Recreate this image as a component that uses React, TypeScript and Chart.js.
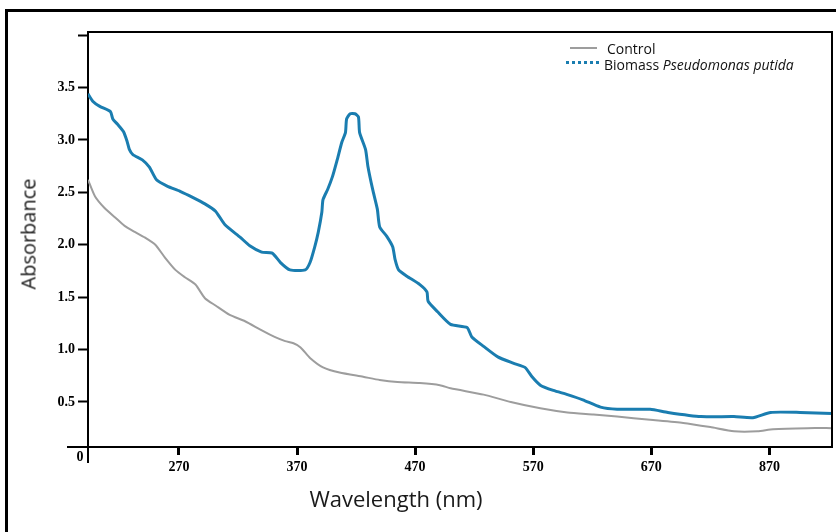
import React, { useEffect, useRef } from "react";
import { Chart, registerables } from "chart.js";

Chart.register(...registerables);

// ---- data ----
const controlWavelength = [193, 199, 207, 216, 224, 233, 241, 250, 258, 267, 275, 284, 292, 301, 313, 326, 339, 351, 360, 367, 373, 381, 392, 406, 426, 440, 455, 474, 491, 500, 528, 551, 576, 599, 621, 641, 669, 697, 720, 740, 760, 773, 802, 823];
const controlAbsorbance = [2.62, 2.46, 2.35, 2.26, 2.18, 2.12, 2.07, 2.0, 1.88, 1.76, 1.69, 1.62, 1.49, 1.42, 1.33, 1.27, 1.19, 1.12, 1.08, 1.06, 1.02, 0.92, 0.83, 0.78, 0.74, 0.71, 0.69, 0.68, 0.66, 0.63, 0.57, 0.5, 0.44, 0.4, 0.38, 0.36, 0.33, 0.3, 0.26, 0.22, 0.22, 0.24, 0.25, 0.25];

const biomassWavelength = [193, 197, 203, 212, 214, 218, 223, 226, 228, 231, 239, 245, 251, 260, 271, 282, 292, 301, 309, 322, 330, 340, 349, 356, 364, 377, 381, 385, 388, 391, 392, 396, 400, 404, 408, 411, 412, 415, 419, 422, 423, 428, 430, 434, 438, 440, 446, 451, 453, 456, 463, 474, 480, 481, 489, 500, 514, 518, 528, 540, 553, 563, 569, 576, 587, 599, 612, 627, 641, 669, 684, 712, 740, 756, 771, 796, 823];
const biomassAbsorbance = [3.44, 3.37, 3.32, 3.27, 3.2, 3.15, 3.08, 2.99, 2.91, 2.86, 2.81, 2.74, 2.62, 2.56, 2.51, 2.45, 2.39, 2.32, 2.19, 2.07, 1.99, 1.93, 1.92, 1.83, 1.76, 1.76, 1.83, 1.98, 2.12, 2.31, 2.43, 2.53, 2.65, 2.81, 2.98, 3.07, 3.2, 3.25, 3.25, 3.22, 3.07, 2.91, 2.75, 2.53, 2.34, 2.17, 2.08, 1.98, 1.86, 1.76, 1.7, 1.62, 1.55, 1.46, 1.36, 1.24, 1.21, 1.12, 1.03, 0.93, 0.87, 0.83, 0.74, 0.66, 0.61, 0.57, 0.52, 0.45, 0.43, 0.43, 0.4, 0.36, 0.36, 0.35, 0.4, 0.4, 0.39];

const seriesLabels = ["Control", "Biomass", "Pseudomonas putida"];
const xTickValues = [270, 370, 470, 570, 670, 770];
const xTickLabels = ["270", "370", "470", "570", "670", "870"];
const yTickValues = [0.5, 1.0, 1.5, 2.0, 2.5, 3.0, 3.5, 4.0];
const yTickLabels = ["0.5", "1.0", "1.5", "2.0", "2.5", "3.0", "3.5", ""];
const originLabel = "0";
const xTitle = "Wavelength (nm)";
const yTitle = "Absorbance";

const CONTROL_COLOR = "#9d9d9d";
const BIOMASS_COLOR = "#1a7db0";
const TICK_FONT = { family: '"Liberation Serif"', size: 14, weight: "bold" as const };

const framePlugin = {
  id: "frameExtras",
  afterDraw(chart: any) {
    const { ctx, chartArea: a } = chart;
    ctx.save();
    ctx.strokeStyle = "#000";
    ctx.lineWidth = 2;
    ctx.beginPath();
    ctx.moveTo(a.left, a.top);
    ctx.lineTo(a.right, a.top);
    ctx.lineTo(a.right, a.bottom);
    ctx.stroke();
    ctx.beginPath();
    ctx.moveTo(a.left - 21, a.bottom);
    ctx.lineTo(a.left, a.bottom);
    ctx.moveTo(a.left, a.bottom);
    ctx.lineTo(a.left, a.bottom + 16);
    ctx.stroke();
    ctx.fillStyle = "#000";
    ctx.font = 'bold 14px "Liberation Serif"';
    ctx.textAlign = "center";
    ctx.textBaseline = "middle";
    ctx.fillText(originLabel, a.left - 8, a.bottom + 10);
    ctx.restore();
  },
};

export default function App() {
  const ref = useRef<HTMLCanvasElement | null>(null);

  useEffect(() => {
    if (!ref.current) return;
    const chart = new Chart(ref.current, {
      type: "line",
      data: {
        datasets: [
          {
            label: seriesLabels[0],
            data: controlWavelength.map((x, i) => ({ x, y: controlAbsorbance[i] })),
            borderColor: CONTROL_COLOR,
            borderWidth: 2,
            pointRadius: 0,
            tension: 0.2,
            fill: false,
          },
          {
            label: seriesLabels[1] + " " + seriesLabels[2],
            data: biomassWavelength.map((x, i) => ({ x, y: biomassAbsorbance[i] })),
            borderColor: BIOMASS_COLOR,
            borderWidth: 3,
            pointRadius: 0,
            tension: 0.2,
            fill: false,
          },
        ],
      },
      options: {
        animation: false,
        responsive: false,
        maintainAspectRatio: false,
        layout: { padding: { left: 0, top: 32, right: 4, bottom: 0 } },
        plugins: { legend: { display: false }, tooltip: { enabled: false } },
        scales: {
          x: {
            type: "linear",
            min: 193,
            max: 823,
            afterBuildTicks: (s: any) => {
              s.ticks = xTickValues.map((v) => ({ value: v }));
            },
            afterFit: (s: any) => {
              s.height = 85;
            },
            ticks: {
              autoSkip: false,
              maxRotation: 0,
              padding: 4,
              color: "#000",
              font: TICK_FONT,
              callback: (v: any) => {
                const i = xTickValues.indexOf(Number(v));
                return i >= 0 ? xTickLabels[i] : "";
              },
            },
            grid: {
              drawOnChartArea: false,
              drawTicks: true,
              tickLength: 8,
              tickWidth: 3,
              tickColor: "#000",
            },
            border: { display: true, color: "#000", width: 2 },
          },
          y: {
            type: "linear",
            min: 0.07,
            max: 4.03,
            afterBuildTicks: (s: any) => {
              s.ticks = yTickValues.map((v) => ({ value: v }));
            },
            afterFit: (s: any) => {
              s.width = 88;
            },
            ticks: {
              autoSkip: false,
              padding: 3,
              color: "#000",
              font: TICK_FONT,
              callback: (v: any) => {
                const i = yTickValues.findIndex((t) => Math.abs(t - Number(v)) < 1e-6);
                return i >= 0 ? yTickLabels[i] : "";
              },
            },
            grid: {
              drawOnChartArea: false,
              drawTicks: true,
              tickLength: 10,
              tickWidth: 2,
              tickColor: "#000",
            },
            border: { display: true, color: "#000", width: 2 },
          },
        },
      },
      plugins: [framePlugin],
    });
    return () => chart.destroy();
  }, []);

  const sans = '"Open Sans", "Noto Sans", sans-serif';

  return (
    <div style={{ position: "fixed", left: 0, top: 0, width: 836, height: 532, background: "#fff", overflow: "hidden" }}>
      <div
        style={{
          position: "absolute",
          left: 5,
          top: 9,
          width: 900,
          height: 600,
          borderLeft: "3px solid #000",
          borderTop: "3px solid #000",
          boxSizing: "border-box",
        }}
      />
      <canvas ref={ref} width={836} height={532} style={{ position: "absolute", left: 0, top: 0, width: 836, height: 532 }} />
      {/* axis titles */}
      <div
        style={{
          position: "absolute",
          left: 28,
          top: 234,
          transform: "translate(-50%, -50%) rotate(-90deg)",
          fontFamily: sans,
          fontSize: 20,
          color: "#1a1a1a",
          whiteSpace: "nowrap",
        }}
      >
        {yTitle}
      </div>
      <div
        style={{
          position: "absolute",
          left: 396,
          top: 498,
          transform: "translate(-50%, -50%)",
          fontFamily: sans,
          fontSize: 22,
          color: "#1a1a1a",
          whiteSpace: "nowrap",
        }}
      >
        {xTitle}
      </div>
      {/* legend */}
      <div style={{ position: "absolute", left: 570, top: 47, width: 27, height: 2, background: CONTROL_COLOR }} />
      <div
        style={{
          position: "absolute",
          left: 607,
          top: 48,
          transform: "translateY(-50%)",
          fontFamily: sans,
          fontSize: 14,
          color: "#111",
          whiteSpace: "nowrap",
        }}
      >
        {seriesLabels[0]}
      </div>
      <div style={{ position: "absolute", left: 566, top: 61, width: 33, height: 0, borderTop: "3px dotted " + BIOMASS_COLOR }} />
      <div
        style={{
          position: "absolute",
          left: 604,
          top: 64,
          transform: "translateY(-50%)",
          fontFamily: sans,
          fontSize: 14,
          color: "#111",
          whiteSpace: "nowrap",
        }}
      >
        {seriesLabels[1]} <i>{seriesLabels[2]}</i>
      </div>
    </div>
  );
}
